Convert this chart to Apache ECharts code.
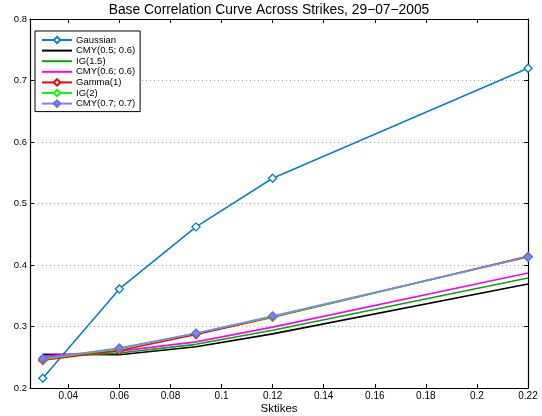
<!DOCTYPE html>
<html>
<head>
<meta charset="utf-8">
<script src="https://cdn.jsdelivr.net/npm/echarts@6/dist/echarts.min.js"></script>
<style>
  html, body { margin: 0; padding: 0; background: #fff; }
  #chart { width: 542px; height: 416px; }
</style>
</head>
<body>
<div id="chart"></div>
<script>
// Strikes (detachment points) and base correlation per model
var strikes = [0.03, 0.06, 0.09, 0.12, 0.22];
var gaussian = [0.216, 0.361, 0.462, 0.541, 0.720];
var cmy0506 = [0.255, 0.254, 0.267, 0.288, 0.369];
var ig15 = [0.250, 0.257, 0.271, 0.294, 0.379];
var cmy0606 = [0.252, 0.260, 0.275, 0.299, 0.387];
var gamma1 = [0.245, 0.261, 0.287, 0.315, 0.414];
var ig2 = [0.247, 0.264, 0.289, 0.316, 0.413];
var cmy0707 = [0.248, 0.265, 0.289, 0.317, 0.413];

var xTicks = [0.04, 0.06, 0.08, 0.1, 0.12, 0.14, 0.16, 0.18, 0.2, 0.22];
var seriesNames = ['Gaussian', 'CMY(0.5; 0.6)', 'IG(1.5)', 'CMY(0.6; 0.6)', 'Gamma(1)', 'IG(2)', 'CMY(0.7; 0.7)'];
var seriesValues = [gaussian, cmy0506, ig15, cmy0606, gamma1, ig2, cmy0707];
var seriesColors = ['#0a80c4', '#000000', '#00a800', '#ff00ff', '#ff0000', '#00ff00', '#8080ff'];
var markedSeries = ['Gaussian', 'Gamma(1)', 'IG(2)', 'CMY(0.7; 0.7)'];
var filledMarkers = ['CMY(0.7; 0.7)'];

var FONT = 'Liberation Sans, Arial, sans-serif';

function pairs(ys) {
  return strikes.map(function (x, i) { return [x, ys[i]]; });
}

function lineSeries(name, ys, color) {
  var withMarker = markedSeries.indexOf(name) >= 0;
  var filled = filledMarkers.indexOf(name) >= 0;
  return {
    name: name,
    type: 'line',
    data: pairs(ys),
    xAxisIndex: 0,
    yAxisIndex: 0,
    symbol: withMarker ? 'diamond' : 'none',
    symbolSize: 8,
    showSymbol: withMarker,
    color: color,
    lineStyle: { color: color, width: 1.6 },
    itemStyle: { color: filled ? color : '#ffffff', borderColor: filled ? '#6a6ae0' : color, borderWidth: 1.4 },
    emphasis: { disabled: true },
    animation: false
  };
}

// plain line glyph for legend entries of unmarked series
var LINE_ICON = 'path://M0,0H30V2H0Z';

var legendData = seriesNames.map(function (n, i) {
  return markedSeries.indexOf(n) >= 0
    ? { name: n }
    : { name: n, icon: LINE_ICON, itemStyle: { color: seriesColors[i], borderWidth: 0 } };
});

var chart = echarts.init(document.getElementById('chart'), null, { renderer: 'canvas' });

var axisLineBlack = { show: true, lineStyle: { color: '#000', width: 1.2 } };

chart.setOption({
  backgroundColor: '#ffffff',
  title: {
    text: 'Base Correlation Curve Across Strikes, 29\u221207\u22122005',
    left: 264,
    textAlign: 'center',
    top: -2,
    textStyle: { fontFamily: FONT, fontSize: 13.8, fontWeight: 'normal', color: '#000' }
  },
  grid: { left: 30, right: 14, top: 19, bottom: 28, show: false, outerBoundsMode: 'none' },
  legend: {
    data: legendData,
    orient: 'vertical',
    left: 35,
    top: 31,
    itemWidth: 30,
    itemHeight: 8,
    itemGap: 0.6,
    padding: [4, 5, 3, 6],
    backgroundColor: '#ffffff',
    borderColor: '#000',
    borderWidth: 1,
    textStyle: { fontFamily: FONT, fontSize: 9.5, color: '#000', padding: [0, 0, 0, -1] },
    selectedMode: false
  },
  xAxis: [{
    type: 'value',
    min: 0.025,
    max: 0.22,
    name: 'Sktikes',
    nameLocation: 'middle',
    nameGap: 14.5,
    nameMoveOverlap: false,
    nameTextStyle: { fontFamily: FONT, fontSize: 11.5, color: '#000' },
    axisLine: axisLineBlack,
    axisTick: { show: true, inside: true, length: 4, customValues: xTicks, lineStyle: { color: '#000' } },
    axisLabel: { show: true, customValues: xTicks, margin: 3, fontFamily: FONT, fontSize: 10, color: '#000' },
    splitLine: { show: false }
  }, {
    type: 'value',
    position: 'top',
    min: 0.025,
    max: 0.22,
    axisLine: axisLineBlack,
    axisTick: { show: true, inside: true, length: 4, customValues: xTicks, lineStyle: { color: '#000' } },
    axisLabel: { show: false },
    splitLine: { show: false }
  }],
  yAxis: [{
    type: 'value',
    min: 0.2,
    max: 0.8,
    interval: 0.1,
    axisLine: axisLineBlack,
    axisTick: { show: true, inside: true, length: 4, lineStyle: { color: '#000' } },
    axisLabel: { show: true, margin: 3, fontFamily: FONT, fontSize: 9.5, color: '#000',
      formatter: function (v) { return (Math.round(v * 10) / 10).toString(); } },
    splitLine: { show: true, lineStyle: { color: '#9a9a9a', type: [1, 3], width: 1 } }
  }, {
    type: 'value',
    position: 'right',
    min: 0.2,
    max: 0.8,
    interval: 0.1,
    axisLine: axisLineBlack,
    axisTick: { show: true, inside: true, length: 4, lineStyle: { color: '#000' } },
    axisLabel: { show: false },
    splitLine: { show: false }
  }],
  series: seriesNames.map(function (n, i) {
    return lineSeries(n, seriesValues[i], seriesColors[i]);
  })
});
</script>
</body>
</html>
